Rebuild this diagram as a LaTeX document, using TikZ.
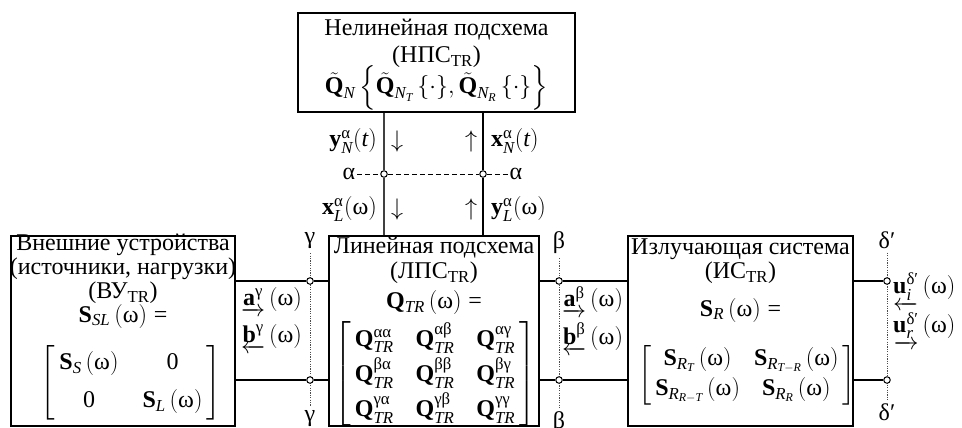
\RequirePackage{fix-cm}
\documentclass[tikz,border=0pt]{standalone}
\usepackage{amsmath}
\usepackage{fontspec}
\setmainfont{Liberation Serif}
\usetikzlibrary{calc}

% text-font pieces inside formulas
\newcommand\vb[1]{\text{\normalfont\bfseries #1}}
\newcommand\vi[1]{\text{\normalfont\itshape #1}}
\newcommand\vr[1]{\text{\normalfont #1}}
\newcommand\om{\,(\vr{ω})}

\pgfdeclarelayer{bg}
\pgfsetlayers{bg,main}

\tikzset{
  txt/.style={font=\fontsize{24}{28}\selectfont, inner sep=0pt},
  boxnode/.style={draw, line width=2.6pt, fill=white, inner sep=0pt},
  wire/.style={line width=1.2pt},
  port/.style={circle, draw, fill=white, line width=1pt, inner sep=0pt, minimum size=6.5pt},
  dotline/.style={line width=0.7pt, dash pattern=on 1.2pt off 1.2pt, black!70},
  dashline/.style={line width=0.9pt, dash pattern=on 5pt off 3pt},
}

\begin{document}
\begin{tikzpicture}[x=1pt, y=-1pt]
\useasboundingbox (0,0) rectangle (962,428);

% blocks
\node[boxnode, minimum width=277pt, minimum height=99pt]  (nps) at (436.5,62.5) {};
\node[boxnode, minimum width=224pt, minimum height=190pt] (vu)  at (123,331) {};
\node[boxnode, minimum width=210pt, minimum height=190pt] (lps) at (434,331) {};
\node[boxnode, minimum width=225pt, minimum height=190pt] (is)  at (740.5,331) {};

% ports
\node[port] (a1) at (384,174) {};
\node[port] (a2) at (483,174) {};
\node[port] (g1) at (310,281) {};
\node[port] (g2) at (310,380) {};
\node[port] (b1) at (559,281) {};
\node[port] (b2) at (559,380) {};
\node[port] (d1) at (887,281) {};
\node[port] (d2) at (887,380) {};

% section labels
\node[txt] (aL) at (349,174) {α};
\node[txt] (aR) at (516,174) {α};
\node[txt] (gT) at (310,241) {γ};
\node[txt] (gB) at (310,419) {γ};
\node[txt] (bT) at (559,243) {β};
\node[txt] (bB) at (559,423) {β};
\node[txt] (dT) at (887,240) {δ′};
\node[txt] (dB) at (887,412) {δ′};

\begin{pgfonlayer}{bg}
  % section lines
  \draw[dotline] ([yshift=-4pt]gT.south) -- ([yshift=4pt]gB.north);
  \draw[dotline] ([yshift=-4pt]bT.south) -- ([yshift=4pt]bB.north);
  \draw[dotline] ([yshift=-4pt]dT.south) -- ([yshift=4pt]dB.north);
  \draw[dashline] ([xshift=2pt]aL.east) -- (a1) -- (a2) -- ([xshift=-2pt]aR.west);
  % connections
  \draw[wire, black!75] (nps.south -| a1) -- (a1) -- (lps.north -| a1);
  \draw[wire] (nps.south -| a2) -- (a2) -- (lps.north -| a2);
  \draw[wire] (vu.east |- g1) -- (g1) -- (lps.west |- g1);
  \draw[wire] (vu.east |- g2) -- (g2) -- (lps.west |- g2);
  \draw[wire] (lps.east |- b1) -- (b1) -- (is.west |- b1);
  \draw[wire] (lps.east |- b2) -- (b2) -- (is.west |- b2);
  \draw[wire] (is.east |- d1) -- (d1);
  \draw[wire] (is.east |- d2) -- (d2);
  % wave labels between the linear block and the radiating system
  \node[txt, anchor=west] (ab) at (562,302) {$\underrightarrow{\vb{a}^{\vr{β}}}\om$};
  \node[txt, anchor=west] (bb) at (562,339) {$\underleftarrow{\vb{b}^{\vr{β}}}\om$};
\end{pgfonlayer}

% nonlinear block
\node[txt] (npsA) at (436.5,30) {Нелинейная подсхема};
\node[txt] (npsB) at (436.5,57) {(НПС\textsubscript{TR})};
\node[txt] (npsC) at (436.5,88) {$\tilde{\vb{Q}}_{\vi{N}}\,\Bigl\{\tilde{\vb{Q}}_{\vi{N}_{\vi{T}}}\,\{\cdot\},\tilde{\vb{Q}}_{\vi{N}_{\vi{R}}}\,\{\cdot\}\Bigr\}$};

% external devices block
\node[txt] (vuA) at (123,245) {Внешние устройства};
\node[txt] (vuB) at (123,269) {(источники, нагрузки)};
\node[txt] (vuC) at (123,293) {(ВУ\textsubscript{TR})};
\node[txt] (vuD) at (123,316) {$\vb{S}_{\vi{SL}}\om\;\vr{=}$};
\node[txt] (vuM) at (131,383) {$\left[\begin{array}{@{\,}c@{\hspace{24pt}}c@{\,}}
  \vb{S}_{\vi{S}}\om & \vr{0}\\[10pt]
  \vr{0} & \vb{S}_{\vi{L}}\om
\end{array}\right]$};

% linear block
\node[txt] (lpsA) at (434,248) {Линейная подсхема};
\node[txt] (lpsB) at (434,273) {(ЛПС\textsubscript{TR})};
\node[txt] (lpsC) at (434,302) {$\vb{Q}_{\vi{TR}}\om\;\vr{=}$};
\node[txt] (lpsM) at (435,374) {$\left[\begin{array}{@{\,}c@{\hspace{22pt}}c@{\hspace{22pt}}c@{\,}}
  \vb{Q}^{\vr{αα}}_{\vi{TR}} & \vb{Q}^{\vr{αβ}}_{\vi{TR}} & \vb{Q}^{\vr{αγ}}_{\vi{TR}}\\[3pt]
  \vb{Q}^{\vr{βα}}_{\vi{TR}} & \vb{Q}^{\vr{ββ}}_{\vi{TR}} & \vb{Q}^{\vr{βγ}}_{\vi{TR}}\\[3pt]
  \vb{Q}^{\vr{γα}}_{\vi{TR}} & \vb{Q}^{\vr{γβ}}_{\vi{TR}} & \vb{Q}^{\vr{γγ}}_{\vi{TR}}
\end{array}\right]$};

% radiating system block
\node[txt] (isA) at (740.5,249) {Излучающая система};
\node[txt] (isB) at (740.5,273) {(ИС\textsubscript{TR})};
\node[txt] (isC) at (740.5,310) {$\vb{S}_{\vi{R}}\om\;\vr{=}$};
\node[txt] (isM) at (747,375) {$\left[\begin{array}{@{\,}c@{\hspace{14pt}}c@{\,}}
  \vb{S}_{\vi{R}_{\vi{T}}}\om & \vb{S}_{\vi{R}_{\vi{T}-\vi{R}}}\om\\[2pt]
  \vb{S}_{\vi{R}_{\vi{R}-\vi{T}}}\om & \vb{S}_{\vi{R}_{\vi{R}}}\om
\end{array}\right]$};

% signals between the nonlinear and linear blocks
\node[txt, anchor=east] (yN) at (377,141) {$\vb{y}^{\vr{α}}_{\vi{N}}(\vi{t})$};
\node[txt] (yNa) at (397,141) {$\downarrow$};
\node[txt] (xNa) at (471,141) {$\uparrow$};
\node[txt, anchor=west] (xN) at (491,141) {$\vb{x}^{\vr{α}}_{\vi{N}}(\vi{t})$};
\node[txt, anchor=east] (xL) at (377,209) {$\vb{x}^{\vr{α}}_{\vi{L}}(\vr{ω})$};
\node[txt] (xLa) at (397,209) {$\downarrow$};
\node[txt] (yLa) at (471,209) {$\uparrow$};
\node[txt, anchor=west] (yL) at (491,209) {$\vb{y}^{\vr{α}}_{\vi{L}}(\vr{ω})$};

% waves at the external devices
\node[txt, anchor=west] (ag) at (241,302) {$\underrightarrow{\vb{a}^{\vr{γ}}}\om$};
\node[txt, anchor=west] (bg) at (241,339) {$\underleftarrow{\vb{b}^{\vr{γ}}}\om$};

% incident and reflected waves of the radiating system
\node[txt, anchor=west] (ui) at (893,292) {$\underleftarrow{\vb{u}^{\vr{δ′}}_{\vi{i}}}\om$};
\node[txt, anchor=west] (ur) at (893,331) {$\underrightarrow{\vb{u}^{\vr{δ′}}_{\vi{r}}}\om$};
\end{tikzpicture}
\end{document}
